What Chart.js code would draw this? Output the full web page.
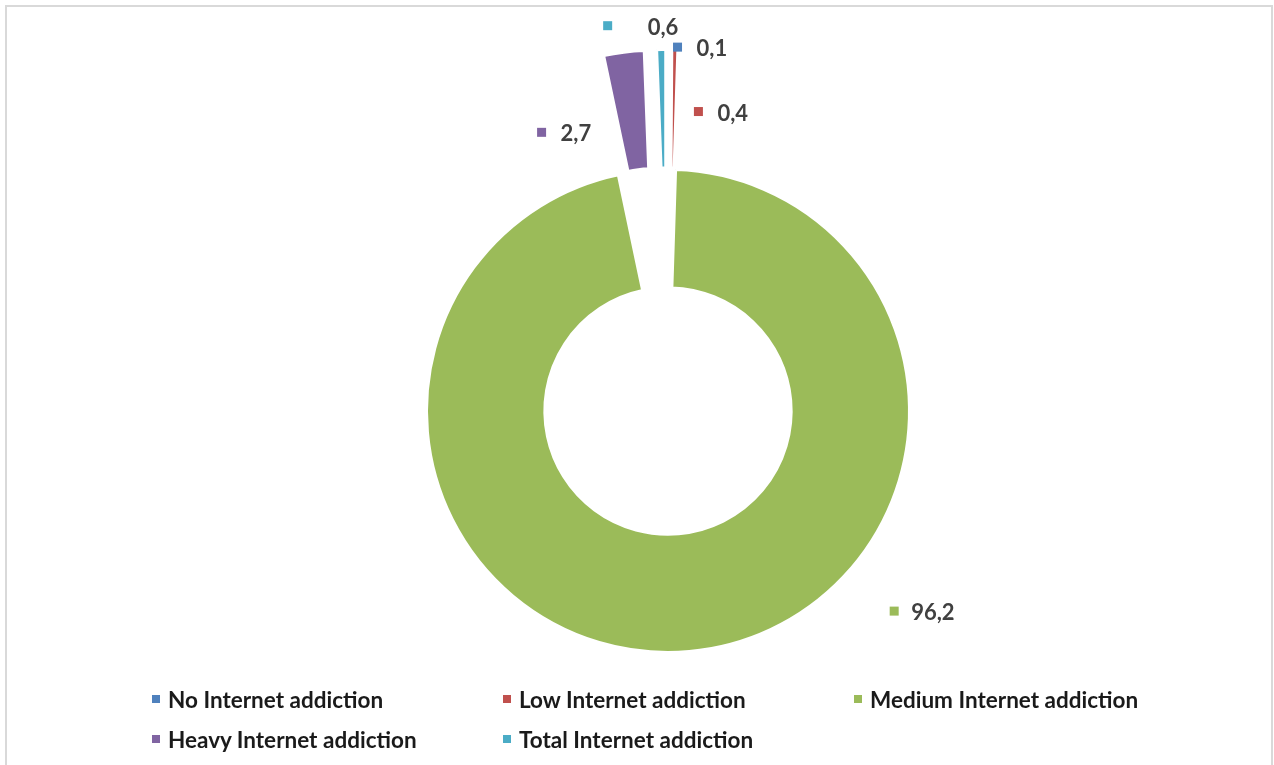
<!DOCTYPE html>
<html lang="en">
<head>
    <meta charset="UTF-8">
    <title>Internet addiction</title>
    <script src="https://cdn.jsdelivr.net/npm/chart.js"></script>
    <style>
        body{margin:0;background:#fff;}
        #wrap{position:relative;width:1274px;height:765px;overflow:hidden;}
        #frame{position:absolute;left:5px;top:5px;width:1264px;height:800px;border:2px solid #d9d9d9;}
        #chart{position:absolute;left:0;top:0;}
        #legend{position:absolute;left:152px;top:679px;display:grid;grid-template-columns:351px 351px 351px;grid-auto-rows:40px;
            font-family:Lato,"Open Sans",sans-serif;font-weight:bold;font-size:22.5px;color:#1a1a1a;}
        #legend div{display:flex;align-items:center;white-space:nowrap;}
        #legend span{display:inline-block;width:8px;height:8px;margin-right:8px;}
    </style>
</head>
<body>
<div id="wrap">
    <div id="frame"></div>
    <canvas id="chart" width="1274" height="765"></canvas>
    <div id="legend"></div>
</div>
<script>
    const categories=["No Internet addiction","Low Internet addiction","Medium Internet addiction","Heavy Internet addiction","Total Internet addiction"]
    const percentages=[0.1,0.4,96.2,2.7,0.6]
    const colors=["#4F81BD","#C0504D","#9BBB59","#8064A2","#4BACC6"]
    const exploded=[true,true,false,true,true]

    // label placement: angle clockwise from top (deg) and distance from ring centre
    const labelAngle=[1.5,5.8,131.5,335.6,351.1]
    const labelDist=[364,301,302,306,390]
    const labelGap=[19,19,17,19,40]
    const explodeDist=120

    const explodePlugin={
        id:"explode",
        afterDatasetsUpdate(chart){
            const arcs=chart.getDatasetMeta(0).data
            arcs.forEach((arc,i)=>{
                if(!exploded[i])return
                const mid=(arc.startAngle+arc.endAngle)/2
                arc.x+=Math.cos(mid)*explodeDist
                arc.y+=Math.sin(mid)*explodeDist
            })
        }
    }

    const labelPlugin={
        id:"pointLabels",
        afterDatasetsDraw(chart){
            const ctx=chart.ctx
            const area=chart.chartArea
            const cx=(area.left+area.right)/2
            const cy=(area.top+area.bottom)/2
            ctx.save()
            ctx.font="bold 22px Lato"
            ctx.textBaseline="middle"
            ctx.textAlign="left"
            percentages.forEach((v,i)=>{
                const a=labelAngle[i]*Math.PI/180
                const mx=cx+labelDist[i]*Math.sin(a)
                const my=cy-labelDist[i]*Math.cos(a)
                ctx.fillStyle=colors[i]
                ctx.fillRect(mx-4.5,my-4.5,9,9)
                ctx.fillStyle="#404040"
                ctx.fillText(v.toFixed(1).replace(".",","),mx+labelGap[i],my+2)
            })
            ctx.restore()
        }
    }

    new Chart(document.getElementById("chart"),{
        type:"doughnut",
        data:{
            labels:categories,
            datasets:[{
                data:percentages,
                backgroundColor:colors,
                borderColor:"#ffffff",
                borderWidth:3
            }]
        },
        options:{
            responsive:false,
            animation:false,
            events:[],
            cutout:"51%",
            radius:241.5,
            layout:{padding:{left:62,top:57}},
            plugins:{
                legend:{display:false},
                tooltip:{enabled:false}
            }
        },
        plugins:[explodePlugin,labelPlugin]
    })

    const legend=document.getElementById("legend")
    categories.forEach((c,i)=>{
        const item=document.createElement("div")
        item.innerHTML='<span style="background:'+colors[i]+'"></span>'+c
        legend.appendChild(item)
    })
</script>
</body>
</html>
